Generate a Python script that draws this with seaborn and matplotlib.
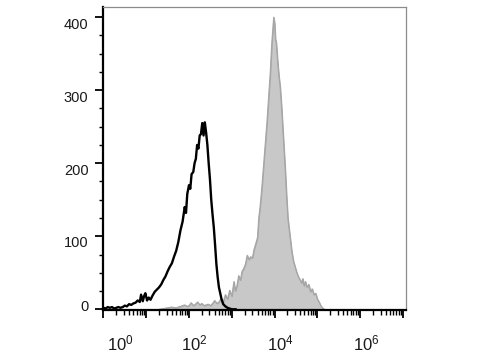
import numpy as np
import pandas as pd
import matplotlib
matplotlib.use("Agg")
import matplotlib.pyplot as plt
import matplotlib.transforms as mtransforms
from matplotlib.ticker import FixedLocator, NullFormatter
import seaborn as sns

# ---- data (log10 of fluorescence, event count) ----
black_log = [0.00, 0.05, 0.10, 0.15, 0.20, 0.25, 0.30, 0.35, 0.40, 0.45, 0.50, 0.55,
             0.60, 0.65, 0.70, 0.75, 0.80, 0.85, 0.88, 0.92, 0.95, 0.98, 1.02, 1.06,
             1.10, 1.15, 1.20, 1.25, 1.30, 1.35, 1.40, 1.45, 1.50, 1.55, 1.60, 1.65,
             1.70, 1.75, 1.80, 1.85, 1.90, 1.93, 1.96, 2.00, 2.03, 2.06, 2.10, 2.13,
             2.16, 2.19, 2.22, 2.25, 2.28, 2.31, 2.34, 2.37, 2.40, 2.43, 2.46, 2.49,
             2.52, 2.55, 2.58, 2.61, 2.64, 2.67, 2.70, 2.73, 2.76, 2.80, 2.85, 2.90,
             2.95, 3.00, 3.10]
black_cnt = [2, 1, 3, 2, 3, 1, 2, 3, 2, 3, 5, 4,
             7, 6, 8, 9, 12, 10, 20, 11, 18, 22, 12, 16,
             13, 19, 24, 27, 30, 34, 40, 45, 52, 58, 63, 72,
             80, 92, 108, 120, 140, 132, 158, 170, 165, 185, 188, 200,
             206, 225, 220, 238, 240, 255, 238, 256, 242, 225, 200, 178,
             150, 130, 112, 88, 62, 44, 30, 22, 14, 7, 4, 2,
             1, 0, 0]

gray_log = [1.30, 1.50, 1.60, 1.70, 1.80, 1.90, 1.95, 2.00, 2.05, 2.10, 2.15, 2.20,
            2.25, 2.30, 2.35, 2.40, 2.45, 2.50, 2.55, 2.60, 2.65, 2.70, 2.75, 2.80,
            2.85, 2.90, 2.95, 3.00, 3.05, 3.08, 3.12, 3.16, 3.20, 3.24, 3.28, 3.32,
            3.36, 3.40, 3.44, 3.48, 3.52, 3.56, 3.60, 3.63, 3.66, 3.70, 3.74, 3.78,
            3.82, 3.86, 3.90, 3.93, 3.96, 3.98, 4.00, 4.02, 4.04, 4.07, 4.10, 4.13,
            4.16, 4.19, 4.22, 4.25, 4.28, 4.31, 4.34, 4.37, 4.40, 4.44, 4.48, 4.52,
            4.56, 4.60, 4.63, 4.66, 4.69, 4.72, 4.76, 4.80, 4.84, 4.88, 4.92, 4.96,
            5.00, 5.04, 5.08, 5.12, 5.16]
gray_cnt = [0, 2, 3, 2, 4, 6, 4, 5, 9, 5, 7, 10,
            6, 8, 5, 6, 7, 5, 8, 12, 8, 10, 15, 10,
            20, 14, 26, 18, 38, 25, 32, 46, 40, 52, 56, 62,
            74, 68, 72, 70, 82, 90, 98, 125, 140, 165, 195, 225,
            255, 290, 325, 360, 385, 400, 392, 370, 365, 340, 320, 305,
            280, 250, 220, 190, 155, 125, 110, 95, 80, 66, 58, 50,
            44, 40, 36, 42, 32, 38, 30, 34, 24, 28, 20, 22,
            14, 10, 5, 2, 0]

x_decades = [0, 1, 2, 3, 4, 5, 6, 7]
x_labels = ["$10^{0}$", "", "$10^{2}$", "", "$10^{4}$", "", "$10^{6}$", ""]
y_ticks = [0, 100, 200, 300, 400]
y_labels = ["0", "100", "200", "300", "400"]

black = pd.DataFrame({"x": 10.0 ** np.array(black_log), "y": black_cnt})
gray = pd.DataFrame({"x": 10.0 ** np.array(gray_log), "y": gray_cnt})

sns.set_style("ticks")
plt.rcParams["font.family"] = ["Liberation Sans", "DejaVu Sans"]
plt.rcParams["mathtext.fontset"] = "custom"
plt.rcParams["mathtext.rm"] = "Liberation Sans"
plt.rcParams["mathtext.it"] = "Liberation Sans"

fig = plt.figure(figsize=(4.8, 3.6), dpi=100)
ax = fig.add_axes([0.2146, 0.1389, 0.631, 0.8417])

ax.fill_between(gray["x"], gray["y"], color="#c8c8c8", edgecolor="#a6a6a6",
                linewidth=0.8, zorder=2)
sns.lineplot(data=gray, x="x", y="y", ax=ax, color="#a6a6a6", linewidth=0.8, zorder=2)
sns.lineplot(data=black, x="x", y="y", ax=ax, color="black", linewidth=1.7, zorder=3)

ax.set_xscale("log")
ax.set_xlim(10 ** -0.01, 10 ** 7.07)
ax.set_ylim(-1, 414)
ax.set_xlabel("")
ax.set_ylabel("")

ax.xaxis.set_major_locator(FixedLocator([10.0 ** d for d in x_decades]))
minor = [m * 10.0 ** d for d in x_decades[:-1] for m in range(2, 10)]
ax.xaxis.set_minor_locator(FixedLocator(minor))
ax.xaxis.set_minor_formatter(NullFormatter())
ax.set_xticklabels(x_labels, fontsize=12)

ax.set_yticks(y_ticks)
ax.set_yticklabels(y_labels, fontsize=10.5)
ax.yaxis.set_minor_locator(FixedLocator([v for v in range(0, 414, 25) if v % 100]))

ax.tick_params(axis="x", which="major", direction="out", length=6, width=1.3,
               pad=11, color="black", labelcolor="#1a1a1a")
ax.tick_params(axis="x", which="minor", direction="out", length=3.5, width=1.0,
               color="black")
ax.tick_params(axis="y", which="major", direction="out", length=6, width=1.3,
               pad=4.5, color="black", labelcolor="#1a1a1a")
ax.tick_params(axis="y", which="minor", direction="out", length=3, width=1.0,
               color="black")

for side in ["left", "bottom"]:
    ax.spines[side].set_color("black")
    ax.spines[side].set_linewidth(1.6)
for side in ["top", "right"]:
    ax.spines[side].set_visible(True)
    ax.spines[side].set_color("#8c8c8c")
    ax.spines[side].set_linewidth(0.9)

# small offsets of the label positions as in the reference
xoff = [17, 0, 5, 0, 6, 0, 6, 0]
for lab, dx in zip(ax.get_xticklabels(), xoff):
    lab.set_transform(lab.get_transform() +
                      mtransforms.ScaledTranslation(dx / 100, 0, fig.dpi_scale_trans))
yoff = [4, -5, -6, -6, -6]
for lab, dy in zip(ax.get_yticklabels(), yoff):
    lab.set_transform(lab.get_transform() +
                      mtransforms.ScaledTranslation(0, dy / 100, fig.dpi_scale_trans))

fig.savefig("out.png", dpi=100)
